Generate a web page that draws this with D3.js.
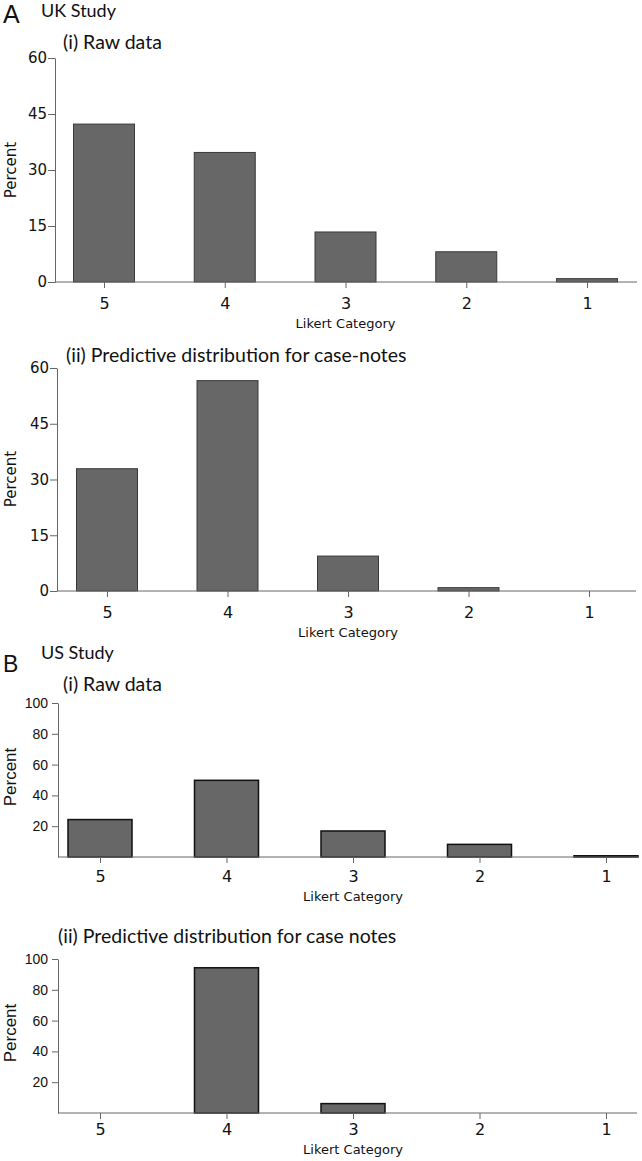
<!DOCTYPE html>
<html>
<head>
<meta charset="utf-8">
<script src="https://cdn.jsdelivr.net/npm/d3@7"></script>
<style>
  body { margin: 0; background: #fff; }
  svg { display: block; }
</style>
</head>
<body>
<div id="chart"></div>
<script>
// Likert categories, shown from 5 down to 1
const categories = ["5", "4", "3", "2", "1"];

// UK study (percent)
const ukRaw = [42.3, 34.7, 13.4, 8.1, 0.9];
const ukPredictive = [32.9, 56.6, 9.4, 0.9, 0];

// US study (percent)
const usRaw = [24.3, 49.8, 16.9, 8.2, 0.8];
const usPredictive = [0, 94.3, 6.1, 0, 0];

// y tick labels
const ukTicks = [0, 15, 30, 45, 60];
const usTicks = [20, 40, 60, 80, 100];

const width = 642, height = 1161;

const svg = d3.select("#chart").append("svg")
    .attr("width", width)
    .attr("height", height);

const titleFont = "Lato, 'Open Sans', sans-serif";
const tahoma = "'DejaVu Sans', Verdana, sans-serif";
const arial = "'Liberation Sans', Arial, sans-serif";

function drawPanel(p) {
    const g = svg.append("g");

    const y = d3.scaleLinear().domain([0, p.yMax]).range([p.y0, p.yTop]);
    const x = d3.scalePoint().domain(categories).range(p.centers);

    // bars
    g.selectAll("rect.bar")
        .data(p.values.map((v, i) => ({ cat: categories[i], v: v })).filter(d => d.v > 0))
        .enter().append("rect")
        .attr("class", "bar")
        .attr("x", d => x(d.cat) - p.barW / 2)
        .attr("y", d => y(d.v))
        .attr("width", p.barW)
        .attr("height", d => p.y0 - y(d.v))
        .attr("fill", "#676767")
        .attr("stroke", p.barStroke)
        .attr("stroke-width", p.barStrokeW);

    // y axis
    const yAxis = g.append("g")
        .attr("transform", `translate(${p.axisX},0)`)
        .call(d3.axisLeft(y).tickValues(p.ticks).tickSize(p.yTick).tickSizeOuter(0).tickPadding(p.yPad));
    yAxis.select(".domain").attr("stroke", "#666");
    yAxis.selectAll(".tick line").attr("stroke", "#666");
    yAxis.selectAll(".tick text")
        .attr("font-family", p.yFont)
        .attr("font-size", p.yFontSize)
        .attr("fill", "#111");

    // x axis
    const xAxis = g.append("g")
        .attr("transform", `translate(0,${p.y0})`)
        .call(d3.axisBottom(x).tickSize(6).tickPadding(p.xBase - p.y0 - 6 - 0.71 * 16));
    xAxis.select(".domain").remove();
    xAxis.selectAll(".tick line").attr("stroke", "#666");
    xAxis.selectAll(".tick text")
        .attr("font-family", tahoma)
        .attr("font-size", 16)
        .attr("fill", "#111");
    g.append("line")
        .attr("x1", p.axisX).attr("x2", p.xRight)
        .attr("y1", p.y0).attr("y2", p.y0)
        .attr("stroke", "#666");

    // axis titles
    g.append("text")
        .attr("x", (p.centers[0] + p.centers[1]) / 2)
        .attr("y", p.xLabelY)
        .attr("text-anchor", "middle")
        .attr("font-family", tahoma)
        .attr("font-size", 13)
        .attr("fill", "#111")
        .text("Likert Category");

    g.append("text")
        .attr("transform", `translate(${p.percentX},${p.percentY}) rotate(-90)`)
        .attr("text-anchor", "middle")
        .attr("font-family", p.percentFont)
        .attr("font-size", p.percentSize)
        .attr("fill", "#111")
        .text("Percent");

    // panel title
    g.append("text")
        .attr("x", p.titleX)
        .attr("y", p.titleY)
        .attr("font-family", titleFont)
        .attr("font-size", 19.5)
        .attr("fill", "#111")
        .text(p.title);
}

// section headings
svg.append("text").attr("x", 3).attr("y", 23)
    .attr("font-family", arial).attr("font-size", 25).attr("fill", "#111").text("A");
svg.append("text").attr("x", 41).attr("y", 17)
    .attr("font-family", titleFont).attr("font-size", 18).attr("fill", "#111").text("UK Study");
svg.append("text").attr("x", 3).attr("y", 672)
    .attr("font-family", arial).attr("font-size", 23).attr("fill", "#111").text("B");
svg.append("text").attr("x", 41).attr("y", 659)
    .attr("font-family", titleFont).attr("font-size", 18).attr("fill", "#111").text("US Study");

const ukStyle = {
    yMax: 60, ticks: ukTicks, yTick: 7, yPad: 1, yFont: tahoma, yFontSize: 15,
    barW: 61, barStroke: "#3a3a3a", barStrokeW: 1,
    percentFont: tahoma, percentSize: 15, percentX: 16
};
const usStyle = {
    yMax: 100, ticks: usTicks, yTick: 6, yPad: 4, yFont: arial, yFontSize: 14,
    barW: 64, barStroke: "#111", barStrokeW: 1.5,
    percentFont: arial, percentSize: 17, percentX: 16
};

drawPanel(Object.assign({}, ukStyle, {
    values: ukRaw, title: "(i) Raw data", titleX: 63, titleY: 49,
    axisX: 55, y0: 282, yTop: 58, xRight: 637, centers: [104, 587],
    xBase: 309, xLabelY: 328, percentY: 170
}));

drawPanel(Object.assign({}, ukStyle, {
    values: ukPredictive, title: "(ii) Predictive distribution for case-notes", titleX: 66, titleY: 362,
    axisX: 57, y0: 591, yTop: 368, xRight: 636, centers: [107, 589],
    xBase: 618, xLabelY: 637, percentY: 479
}));

drawPanel(Object.assign({}, usStyle, {
    values: usRaw, title: "(i) Raw data", titleX: 63, titleY: 691,
    axisX: 58, y0: 857, yTop: 703, xRight: 638, centers: [100, 606],
    xBase: 882, xLabelY: 901, percentY: 777
}));

drawPanel(Object.assign({}, usStyle, {
    values: usPredictive, title: "(ii) Predictive distribution for case notes", titleX: 58, titleY: 943,
    axisX: 58, y0: 1113, yTop: 959, xRight: 637, centers: [100, 606],
    xBase: 1135, xLabelY: 1154, percentY: 1033
}));
</script>
</body>
</html>
